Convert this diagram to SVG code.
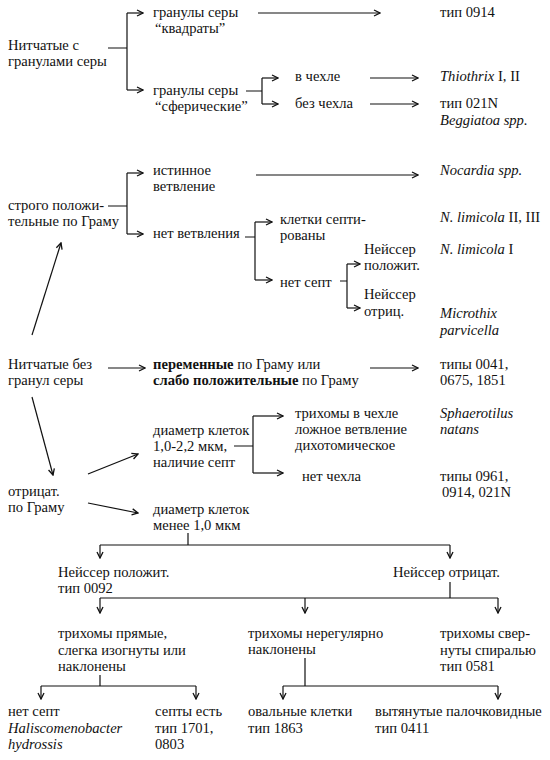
<svg xmlns="http://www.w3.org/2000/svg" width="550" height="760" viewBox="0 0 550 760">
<style>
text{font-family:"Liberation Serif","DejaVu Serif",serif;font-size:14.6px;fill:#111}
.i{font-style:italic}
.b{font-weight:bold}
.c path,.c line,.c polyline{fill:none;stroke:#111;stroke-width:1.2}
</style>
<defs>
<marker id="a" viewBox="0 0 8 8" refX="7" refY="4" markerWidth="8" markerHeight="8" markerUnits="userSpaceOnUse" orient="auto">
<path d="M1,1 L7,4 L1,7" fill="none" stroke="#111" stroke-width="1.3"/>
</marker>
</defs>
<rect width="550" height="760" fill="#fff"/>
<g class="c" id="connectors">
<path d="M108,48 H127 M127,13 V90"/>
<path d="M127,13 H143" marker-end="url(#a)"/>
<path d="M127,90 H143" marker-end="url(#a)"/>
<path d="M258,13 H380" marker-end="url(#a)"/>
<path d="M246,91 H262 M262,78 V104"/>
<path d="M262,78 H278" marker-end="url(#a)"/>
<path d="M262,104 H278" marker-end="url(#a)"/>
<path d="M370,78 H418" marker-end="url(#a)"/>
<path d="M370,104 H418" marker-end="url(#a)"/>
<path d="M108,206 H127 M127,173 V234"/>
<path d="M127,173 H143" marker-end="url(#a)"/>
<path d="M127,234 H143" marker-end="url(#a)"/>
<path d="M256,175 H418" marker-end="url(#a)"/>
<path d="M245,237 H255 M255,222 V280"/>
<path d="M255,222 H272" marker-end="url(#a)"/>
<path d="M255,280 H272" marker-end="url(#a)"/>
<path d="M340,281 H347 M347,264 V308"/>
<path d="M347,264 H360" marker-end="url(#a)"/>
<path d="M347,308 H360" marker-end="url(#a)"/>
<path d="M32,335 L61,243" marker-end="url(#a)"/>
<path d="M32,397 L53,475" marker-end="url(#a)"/>
<path d="M108,368 H145" marker-end="url(#a)"/>
<path d="M370,368 H418" marker-end="url(#a)"/>
<path d="M88,474 L138,454" marker-end="url(#a)"/>
<path d="M88,503 L138,513" marker-end="url(#a)"/>
<path d="M234,446 H253 M253,416 V473"/>
<path d="M253,416 H283" marker-end="url(#a)"/>
<path d="M253,473 H283" marker-end="url(#a)"/>
<path d="M188,533 V545 M100,545 H450"/>
<path d="M100,545 V558" marker-end="url(#a)"/>
<path d="M450,545 V558" marker-end="url(#a)"/>
<path d="M450,582 V598 M100,598 H498"/>
<path d="M100,598 V613" marker-end="url(#a)"/>
<path d="M305,598 V613" marker-end="url(#a)"/>
<path d="M498,598 V613" marker-end="url(#a)"/>
<path d="M100,675 V686 M41,686 H196"/>
<path d="M41,686 V699" marker-end="url(#a)"/>
<path d="M196,686 V699" marker-end="url(#a)"/>
<path d="M305,658 V686 M283,686 H498"/>
<path d="M283,686 V699" marker-end="url(#a)"/>
<path d="M498,686 V699" marker-end="url(#a)"/>
</g>
<g id="n-sulfur"><text x="8" y="50">Нитчатые с</text><text x="8" y="66">гранулами серы</text></g>
<g id="n-square"><text x="153" y="17">гранулы серы</text><text x="155" y="33">“квадраты”</text></g>
<g id="n-0914"><text x="440" y="17">тип 0914</text></g>
<g id="n-sphere"><text x="153" y="95">гранулы серы</text><text x="155" y="111">“сферические”</text></g>
<g id="n-sheath"><text x="295" y="81">в чехле</text></g>
<g id="n-nosheath"><text x="295" y="108">без чехла</text></g>
<g id="n-thiothrix"><text x="440" y="81"><tspan class="i">Thiothrix</tspan> I, II</text></g>
<g id="n-021n"><text x="440" y="108">тип 021N</text><text x="440" y="125" class="i">Beggiatoa spp.</text></g>
<g id="n-strict"><text x="8" y="210">строго положи-</text><text x="8" y="226">тельные по Граму</text></g>
<g id="n-true"><text x="153" y="175">истинное</text><text x="153" y="191">ветвление</text></g>
<g id="n-nocardia"><text x="440" y="175" class="i">Nocardia spp.</text></g>
<g id="n-nobranch"><text x="153" y="238">нет ветвления</text></g>
<g id="n-septate"><text x="280" y="224">клетки септи-</text><text x="280" y="240">рованы</text></g>
<g id="n-nl23"><text x="440" y="222"><tspan class="i">N. limicola</tspan> II, III</text></g>
<g id="n-nosept"><text x="280" y="287">нет септ</text></g>
<g id="n-npos"><text x="364" y="254">Нейссер</text><text x="364" y="270">положит.</text></g>
<g id="n-nl1"><text x="440" y="254"><tspan class="i">N. limicola</tspan> I</text></g>
<g id="n-nneg"><text x="364" y="299">Нейссер</text><text x="364" y="316">отриц.</text></g>
<g id="n-microthix"><text x="440" y="318" class="i">Microthix</text><text x="440" y="335" class="i">parvicella</text></g>
<g id="n-nosulfur"><text x="8" y="369">Нитчатые без</text><text x="8" y="385">гранул серы</text></g>
<g id="n-variable"><text x="153" y="369"><tspan class="b">переменные</tspan> по Граму или</text><text x="153" y="385"><tspan class="b">слабо положительные</tspan> по Граму</text></g>
<g id="n-types1"><text x="440" y="369">типы 0041,</text><text x="440" y="385">0675, 1851</text></g>
<g id="n-neg"><text x="8" y="496">отрицат.</text><text x="8" y="512">по Граму</text></g>
<g id="n-diam1"><text x="153" y="435">диаметр клеток</text><text x="153" y="451">1,0-2,2 мкм,</text><text x="153" y="467">наличие септ</text></g>
<g id="n-trich-sheath"><text x="295" y="418">трихомы в чехле</text><text x="295" y="434">ложное ветвление</text><text x="295" y="450">дихотомическое</text></g>
<g id="n-sphaerotilus"><text x="440" y="418" class="i">Sphaerotilus</text><text x="440" y="434" class="i">natans</text></g>
<g id="n-nosheath2"><text x="302" y="481">нет чехла</text></g>
<g id="n-types2"><text x="440" y="481">типы 0961,</text><text x="442" y="497">0914, 021N</text></g>
<g id="n-diam2"><text x="153" y="514">диаметр клеток</text><text x="153" y="530">менее 1,0 мкм</text></g>
<g id="n-neisspos"><text x="58" y="577">Нейссер положит.</text><text x="58" y="593">тип 0092</text></g>
<g id="n-neissneg"><text x="393" y="577">Нейссер отрицат.</text></g>
<g id="n-straight"><text x="58" y="638">трихомы прямые,</text><text x="58" y="655">слегка изогнуты или</text><text x="58" y="671">наклонены</text></g>
<g id="n-irregular"><text x="248" y="638">трихомы нерегулярно</text><text x="248" y="654">наклонены</text></g>
<g id="n-spiral"><text x="440" y="638">трихомы свер-</text><text x="440" y="655">нуты спиралью</text><text x="440" y="671">тип 0581</text></g>
<g id="n-nosept2"><text x="8" y="716">нет септ</text><text x="8" y="733" class="i">Haliscomenobacter</text><text x="8" y="749" class="i">hydrossis</text></g>
<g id="n-septa"><text x="155" y="716">септы есть</text><text x="155" y="733">тип 1701,</text><text x="155" y="749">0803</text></g>
<g id="n-oval"><text x="248" y="716">овальные клетки</text><text x="248" y="733">тип 1863</text></g>
<g id="n-rod"><text x="375" y="716">вытянутые палочковидные</text><text x="375" y="733">тип 0411</text></g>
</svg>
